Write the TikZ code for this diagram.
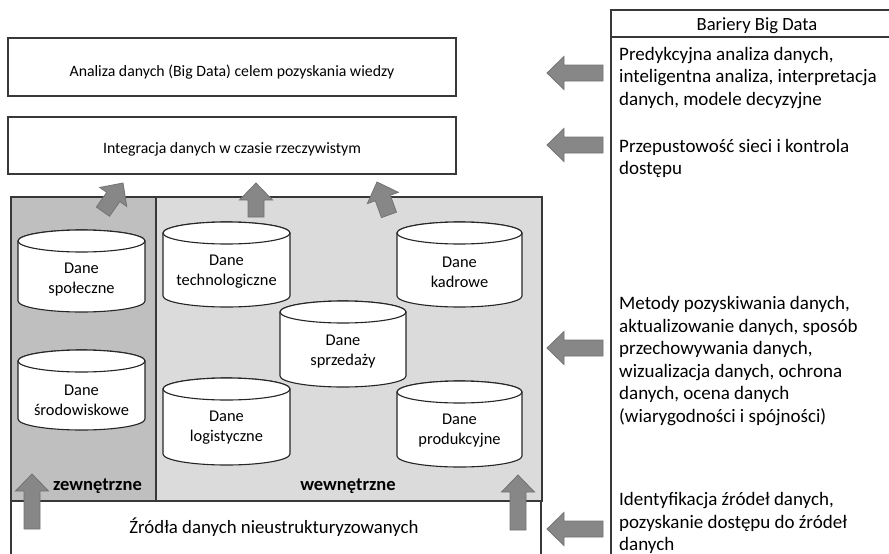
\documentclass[tikz,border=0pt]{standalone}
\usepackage{fontspec}
\setmainfont{Carlito}
\begin{document}
\begin{tikzpicture}[x=1pt,y=1pt,
  line join=miter,
  frame/.style={draw=black!78, line width=1.3pt},
  box/.style={frame, fill=white, inner sep=0pt},
  txt/.style={font=\fontsize{15.8}{20}\selectfont, inner sep=0pt, anchor=base},
  bigtxt/.style={font=\fontsize{18.8}{22}\selectfont, inner sep=0pt, anchor=base},
  sidetxt/.style={font=\fontsize{19}{22.5}\selectfont, inner sep=0pt, anchor=base west, align=left},
  dbtxt/.style={font=\fontsize{16.4}{20}\selectfont, inner sep=0pt, align=center},
  grouptxt/.style={font=\bfseries\fontsize{18.5}{20}\selectfont, inner sep=0pt, anchor=base},
  cyl/.style={draw=black!85, line width=1.1pt, fill=white},
  fatarrowstyle/.style={fill=black!47, draw=black!55, line width=0.8pt},
  pics/fatarrow/.style={code={
    \path[fatarrowstyle] (0,0) -- (-17,16.5) -- (-17,8) -- (-#1,8) -- (-#1,-8)
      -- (-17,-8) -- (-17,-16.5) -- cycle;
  }},
]
\clip (0,0) rectangle (889,-554);
\fill[white] (0,0) rectangle (889,-554);

% data cylinder: left x, top y, width, height
\newcommand{\dbcyl}[4]{%
  \path[cyl] (#1,-#2-11) -- (#1,-#2-#4+11)
    arc[start angle=180, end angle=360, x radius=#3/2, y radius=11]
    -- (#1+#3,-#2-11)
    arc[start angle=0, end angle=180, x radius=#3/2, y radius=11] -- cycle;
  \draw[cyl] (#1+#3/2,-#2-11) ellipse[x radius=#3/2, y radius=11];
}

% upper layers
\node[box, minimum width=448, minimum height=58] (analiza) at (232,-67) {};
\node[txt] (analizatxt) at (232,-76) {Analiza danych (Big Data) celem pozyskania wiedzy};
\node[box, minimum width=448, minimum height=57] (integracja) at (232,-145.5) {};
\node[txt] (integracjatxt) at (232,-153) {Integracja danych w czasie rzeczywistym};

% data sources: external and internal groups
\path[fill=black!25] (11,-197) rectangle (156,-501);
\path[fill=black!14] (156,-197) rectangle (542,-501);
\draw[frame] (11,-197) rectangle (542,-501);
\draw[frame] (156,-197) -- (156,-501);

% unstructured sources
\draw[frame] (11,-560) -- (11,-501) -- (541,-501) -- (541,-560);
\node[bigtxt] (zrodla) at (274,-533) {Źródła danych nieustrukturyzowanych};

% databases
\dbcyl{18}{230}{127}{82}
\node[dbtxt] (spoleczne) at (81.5,-280) {Dane\\społeczne};
\dbcyl{18}{350}{127}{80}
\node[dbtxt] (srodowiskowe) at (81.5,-400) {Dane\\środowiskowe};
\dbcyl{163}{222}{127}{85}
\node[dbtxt] (technologiczne) at (226.5,-272) {Dane\\technologiczne};
\dbcyl{397}{222}{125}{85}
\node[dbtxt] (kadrowe) at (459.5,-272) {Dane\\kadrowe};
\dbcyl{280}{301}{126}{86}
\node[dbtxt] (sprzedazy) at (343,-352) {Dane\\sprzedaży};
\dbcyl{163}{378}{127}{87}
\node[dbtxt] (logistyczne) at (226.5,-428) {Dane\\logistyczne};
\dbcyl{397}{381}{125}{86}
\node[dbtxt] (produkcyjne) at (459.5,-431) {Dane\\produkcyjne};

\node[grouptxt] (zewnetrzne) at (97.5,-490) {zewnętrzne};
\node[grouptxt] (wewnetrzne) at (348,-490) {wewnętrzne};

% upward flows
\pic[rotate=90] (upa) at (32,-474) {fatarrow=55};
\pic[rotate=90] (upb) at (518,-475) {fatarrow=55};
\pic[rotate=55] (upc) at (123,-183) {fatarrow=35};
\pic[rotate=90] (upd) at (256,-183) {fatarrow=34};
\pic[rotate=110] (upe) at (377,-182) {fatarrow=35};

% barriers panel (baseline of each block's last line)
\draw[frame] (611,-560) -- (611,-10) -- (910,-10);
\draw[frame] (611,-37) -- (910,-37);
\node[font=\fontsize{18.6}{22}\selectfont, inner sep=0pt, anchor=base] (bariery) at (757,-30) {Bariery Big Data};
\node[sidetxt] (b1) at (619,-105) {Predykcyjna analiza danych,\\inteligentna analiza, interpretacja\\danych, modele decyzyjne};
\node[sidetxt] (b2) at (619,-174.5) {Przepustowość sieci i kontrola\\dostępu};
\node[sidetxt] (b3) at (619,-422) {Metody pozyskiwania danych,\\aktualizowanie danych, sposób\\przechowywania danych,\\wizualizacja danych, ochrona\\danych, ocena danych\\(wiarygodności i spójności)};
\node[sidetxt] (b4) at (619,-550.5) {Identyfikacja źródeł danych,\\pozyskanie dostępu do źródeł\\danych};

% barrier arrows
\pic[rotate=180] (la) at (547,-73) {fatarrow=56};
\pic[rotate=180] (lb) at (547,-145) {fatarrow=56};
\pic[rotate=180] (lc) at (547,-348) {fatarrow=56};
\pic[rotate=180] (ld) at (547,-529) {fatarrow=56};
\end{tikzpicture}
\end{document}
